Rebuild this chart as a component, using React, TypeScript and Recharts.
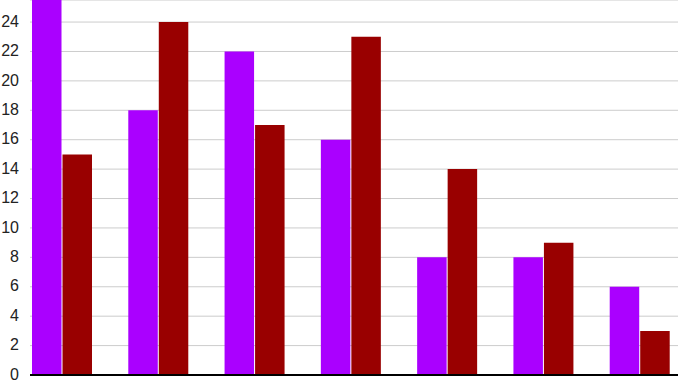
import { BarChart, Bar, XAxis, YAxis, CartesianGrid } from 'recharts'

const categories = ['A', 'B', 'C', 'D', 'E', 'F', 'G']
const purpleValues = [26, 18, 22, 16, 8, 8, 6]
const redValues = [15, 24, 17, 23, 14, 9, 3]
const yTicks = [0, 2, 4, 6, 8, 10, 12, 14, 16, 18, 20, 22, 24]

const data = categories.map((c, i) => ({
  name: c,
  purple: purpleValues[i],
  red: redValues[i],
}))

export default function App() {
  return (
    <div style={{ position: 'absolute', left: 0, top: 0, width: 678, height: 381, overflow: 'hidden', background: '#fff' }}>
      <BarChart
        width={678}
        height={381}
        data={data}
        margin={{ top: 0, right: 0, left: 0, bottom: 0 }}
        barGap={1}
        barSize={29.5}
      >
        <CartesianGrid vertical={false} stroke="#cccccc" />
        <XAxis
          dataKey="name"
          tick={false}
          tickLine={false}
          axisLine={{ stroke: '#000', strokeWidth: 2 }}
          height={6}
          padding={{ left: -16, right: -10 }}
        />
        <YAxis
          domain={[0, 25.5]}
          ticks={yTicks}
          allowDataOverflow
          interval={0}
          width={30}
          axisLine={false}
          tickLine={false}
          tickMargin={5}
          tick={{ fontSize: 16, fill: '#222', fontFamily: 'Liberation Sans, Arial, sans-serif', dy: -1 }}
        />
        <Bar dataKey="purple" fill="#aa00ff" isAnimationActive={false} />
        <Bar dataKey="red" fill="#990000" isAnimationActive={false} />
      </BarChart>
    </div>
  )
}
